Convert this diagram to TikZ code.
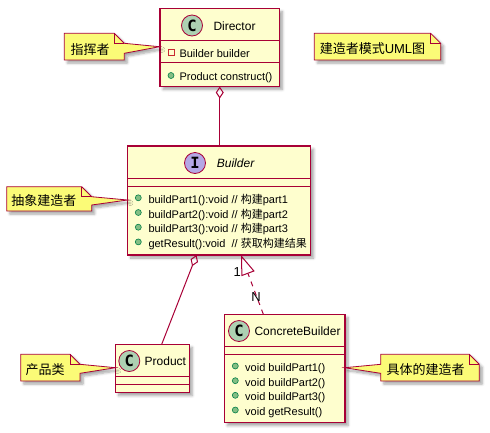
\documentclass[tikz,border=0pt]{standalone}
\usepackage{fontspec}
\setmainfont{Liberation Sans}
\newfontfamily\cjk{Noto Sans CJK SC}
\newfontfamily\iconfont{DejaVu Sans Mono}
\usetikzlibrary{calc,arrows.meta,shadows.blur}

\definecolor{umlred}{HTML}{A80036}
\definecolor{classbg}{HTML}{FEFECE}
\definecolor{notebg}{HTML}{FBFB77}
\definecolor{cgreen}{HTML}{ADD1B2}
\definecolor{ipurple}{HTML}{B4A7E5}
\definecolor{pubfill}{HTML}{84BE84}
\definecolor{publine}{HTML}{038048}
\definecolor{privline}{HTML}{C82930}

\tikzset{
	umlshadow/.style={blur shadow={shadow xshift=3pt,shadow yshift=-3pt,shadow blur radius=2.5pt,shadow blur steps=6,shadow opacity=35}},
	classbox/.style={draw=umlred,fill=classbg,line width=1.2pt,inner sep=0pt,outer sep=0pt,umlshadow},
	notebox/.style={draw=umlred,fill=notebg,line width=.8pt,line join=miter,umlshadow},
	foldline/.style={draw=umlred,line width=.8pt},
	sepline/.style={draw=umlred,line width=1.2pt},
	badge/.style={circle,draw=umlred,line width=.8pt,minimum size=21pt,inner sep=0pt,font=\iconfont\bfseries\fontsize{15.5}{15.5}\selectfont},
	cname/.style={anchor=base west,inner sep=0pt,font=\fontsize{12}{14}\selectfont},
	member/.style={anchor=base west,inner sep=0pt,font=\fontsize{11}{13}\selectfont},
	pub/.style={circle,draw=publine,fill=pubfill,minimum size=6pt,inner sep=0pt,line width=.6pt},
	priv/.style={draw=privline,minimum size=6pt,inner sep=0pt,line width=.8pt},
	notetext/.style={inner sep=0pt,font=\fontsize{13}{15}\selectfont},
	link/.style={draw=umlred,line width=1pt},
	mult/.style={inner sep=0pt,font=\fontsize{13}{15}\selectfont}
}

\begin{document}
\begin{tikzpicture}[x=1pt,y=-1pt,>=latex]
		\useasboundingbox (0,0) rectangle (490,432);
		
		% classes
		\node[classbox,minimum width=119.5pt,minimum height=78pt] (director) at (219.75,47.5) {};
		\draw[sepline] ($(director.north west)+(0,32)$) -- ($(director.north east)+(0,32)$);
		\draw[sepline] ($(director.north west)+(0,54)$) -- ($(director.north east)+(0,54)$);
		\node[badge,fill=cgreen] (directorbadge) at (192,25.5) {C};
		\node[cname] (directorname) at (213.3,30.1) {Director};
		\node[priv] (directorattr) at (171.2,52.3) {};
		\node[member] (directorfield) at (179.3,57) {Builder builder};
		\node[pub] (directorop) at (171,75.5) {};
		\node[member] (directormethod) at (179.3,80) {Product construct()};
		
		\node[classbox,minimum width=183.2pt,minimum height=109pt] (builder) at (219.1,200.5) {};
		\draw[sepline] ($(builder.north west)+(0,32.3)$) -- ($(builder.north east)+(0,32.3)$);
		\draw[sepline] ($(builder.north west)+(0,40.7)$) -- ($(builder.north east)+(0,40.7)$);
		\node[badge,fill=ipurple] (builderbadge) at (195,163) {I};
		\node[cname,font=\fontsize{12}{14}\selectfont\itshape] (buildername) at (216.7,167.5) {Builder};
		\node[pub] (builderop1) at (138.3,197.8) {};
		\node[member] (buildermethod1) at (148.3,203.3) {buildPart1():void // {\cjk 构建}part1};
		\node[pub] (builderop2) at (138.3,212.5) {};
		\node[member] (buildermethod2) at (148.3,218) {buildPart2():void // {\cjk 构建}part2};
		\node[pub] (builderop3) at (138.3,227.2) {};
		\node[member] (buildermethod3) at (148.3,232.7) {buildPart3():void // {\cjk 构建}part3};
		\node[pub] (builderop4) at (138.3,241.9) {};
		\node[member] (buildermethod4) at (148.3,247.4) {getResult():void\ \ // {\cjk 获取构建结果}};
		
		\node[classbox,minimum width=73.8pt,minimum height=48.4pt] (product) at (152.4,368.5) {};
		\draw[sepline] ($(product.north west)+(0,32.4)$) -- ($(product.north east)+(0,32.4)$);
		\draw[sepline] ($(product.north west)+(0,40)$) -- ($(product.north east)+(0,40)$);
		\node[badge,fill=cgreen] (productbadge) at (129.3,361) {C};
		\node[cname] (productname) at (144.5,365.3) {Product};
		
		\node[classbox,minimum width=120.7pt,minimum height=108.4pt] (concrete) at (284.65,368.5) {};
		\draw[sepline] ($(concrete.north west)+(0,32.4)$) -- ($(concrete.north east)+(0,32.4)$);
		\draw[sepline] ($(concrete.north west)+(0,40)$) -- ($(concrete.north east)+(0,40)$);
		\node[badge,fill=cgreen] (concretebadge) at (239,331) {C};
		\node[cname] (concretename) at (254.3,335.3) {ConcreteBuilder};
		\node[pub] (concreteop1) at (235.3,366) {};
		\node[member] (concretemethod1) at (245,371.5) {void buildPart1()};
		\node[pub] (concreteop2) at (235.3,380.7) {};
		\node[member] (concretemethod2) at (245,386.2) {void buildPart2()};
		\node[pub] (concreteop3) at (235.3,395.3) {};
		\node[member] (concretemethod3) at (245,400.9) {void buildPart3()};
		\node[pub] (concreteop4) at (235.3,410) {};
		\node[member] (concretemethod4) at (245,415.6) {void getResult()};
		
		% relations
		\draw[link,{Diamond[open,length=12pt,width=8pt]}-] (director.south) -- (director.south |- builder.north);
		\draw[link,{Diamond[open,length=12pt,width=8pt]}-] ([xshift=-22.6pt]builder.south) -- ([xshift=9.3pt]product.north);
		\draw[link,dash pattern=on 5pt off 5pt,-{Triangle[open,length=20pt,width=14pt]}] ([xshift=-21.3pt]concrete.north) -- ([xshift=21.9pt]builder.south);
		\node[mult] (multone) at (237.3,271.7) {1};
		\node[mult] (multn) at (256,297.3) {N};
		
		% notes
		\draw[notebox] (64.3,33.3) -- (114.3,33.3) -- (124.3,43.3) -- (159.5,46.7) -- (124.3,53.3) -- (124.3,60) -- (64.3,60) -- cycle;%director note
		\draw[foldline] (114.3,33.3) -- (114.3,43.3) -- (124.3,43.3);
		\node[notetext] (notedirector) at (90,49.5) {\cjk 指挥者};
		
		\draw[notebox] (314.3,33.3) -- (430.7,33.3) -- (440.7,43.3) -- (440.7,60) -- (314.3,60) -- cycle;%title note
		\draw[foldline] (430.7,33.3) -- (430.7,43.3) -- (440.7,43.3);
		\node[notetext] (notetitle) at (372.5,49) {{\cjk 建造者模式}UML{\cjk 图}};
		
		\draw[notebox] (6.7,186.7) -- (81.7,186.7) -- (91.7,196.7) -- (127.5,200) -- (91.7,205) -- (91.7,211) -- (6.7,211) -- cycle;%builder note
		\draw[foldline] (81.7,186.7) -- (81.7,196.7) -- (91.7,196.7);
		\node[notetext] (notebuilder) at (44,201) {\cjk 抽象建造者};
		
		\draw[notebox] (20.7,354.3) -- (70,354.3) -- (80,364.3) -- (115.5,367.7) -- (80,373.3) -- (80,381) -- (20.7,381) -- cycle;%product note
		\draw[foldline] (70,354.3) -- (70,364.3) -- (80,364.3);
		\node[notetext] (noteproduct) at (45,370) {\cjk 产品类};
		
		\draw[notebox] (380.7,354.3) -- (469.3,354.3) -- (479.3,364.3) -- (479.3,381) -- (380.7,381) -- (380.7,373.3) -- (344.5,367.7) -- (380.7,364.3) -- cycle;%concrete note
		\draw[foldline] (469.3,354.3) -- (469.3,364.3) -- (479.3,364.3);
		\node[notetext] (noteconcrete) at (425.5,370) {\cjk 具体的建造者};
\end{tikzpicture}
\end{document}
